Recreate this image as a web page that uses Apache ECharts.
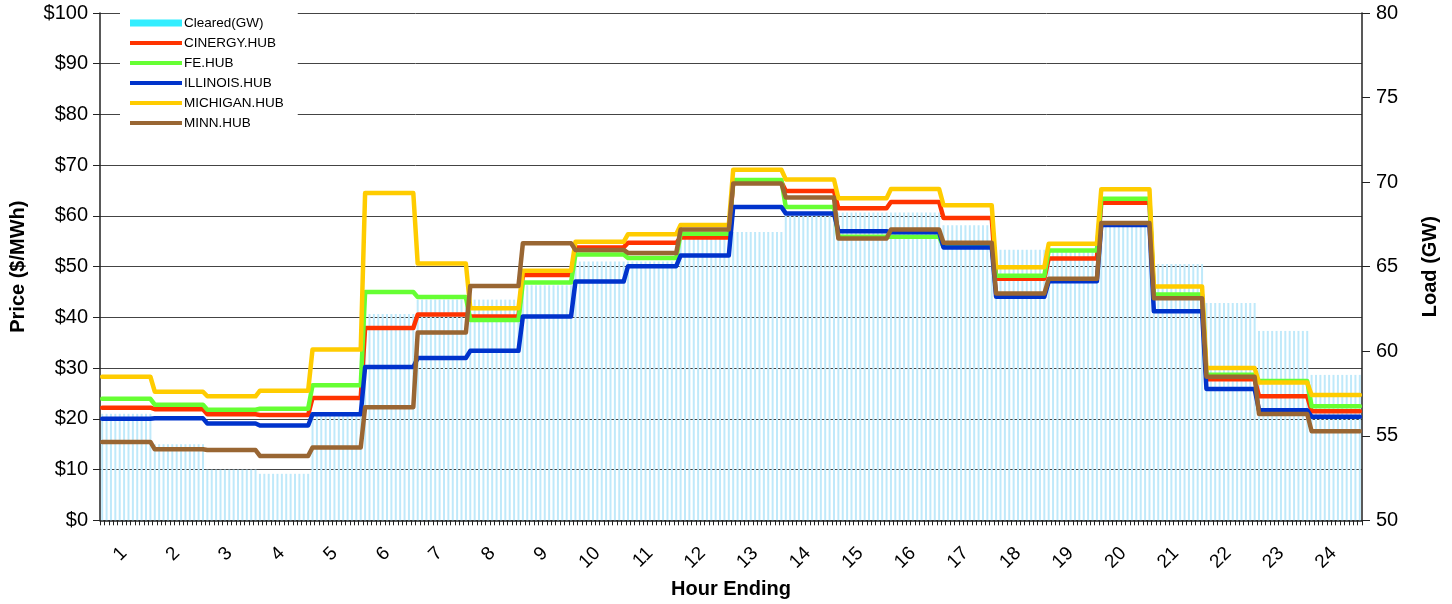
<!DOCTYPE html>
<html>
<head>
<meta charset="utf-8">
<script src="https://cdn.jsdelivr.net/npm/echarts@6/dist/echarts.min.js"></script>
<style>
  html, body { margin: 0; padding: 0; background: #fff; overflow: hidden; }
  #chart { width: 1452px; height: 604px; }
</style>
</head>
<body>
<div id="chart"></div>
<script>
// Hour-ending labels
const hours = ['1','2','3','4','5','6','7','8','9','10','11','12','13','14','15','16','17','18','19','20','21','22','23','24'];
// The chart is plotted at 5-minute resolution: 12 slots per hour, hourly values held flat
const slotsPerHour = 12;

// Hourly values
const clearedGW   = [56.3, 54.5, 53.0, 52.75, 56.2, 62.2, 63.05, 63.05, 63.9, 65.3, 65.3, 66.7, 67.05, 68.0, 68.2, 68.2, 67.45, 66.0, 66.0, 67.45, 65.15, 62.85, 61.2, 58.6];
const cinergyHub  = [22.2, 21.9, 20.9, 20.75, 24.1, 37.9, 40.55, 40.2, 48.35, 53.8, 54.7, 55.75, 66.7, 64.9, 61.5, 62.75, 59.6, 47.6, 51.6, 62.6, 44.2, 27.8, 24.45, 21.5];
const feHub       = [23.95, 22.8, 21.8, 22.0, 26.6, 45.0, 44.0, 39.5, 46.9, 52.4, 51.7, 56.5, 67.1, 61.75, 55.9, 55.9, 53.9, 48.2, 53.2, 63.4, 44.5, 28.7, 27.45, 22.5];
const illinoisHub = [20.0, 20.1, 19.1, 18.7, 20.9, 30.2, 32.0, 33.4, 40.2, 47.05, 50.1, 52.2, 61.75, 60.5, 57.0, 56.8, 53.8, 44.05, 47.1, 58.2, 41.2, 25.9, 21.7, 20.4];
const michiganHub = [28.3, 25.35, 24.45, 25.55, 33.65, 64.5, 50.6, 41.8, 49.2, 54.9, 56.4, 58.2, 69.1, 67.2, 63.5, 65.3, 62.1, 49.9, 54.5, 65.25, 46.1, 30.0, 27.15, 24.7];
const minnHub     = [15.45, 14.0, 13.85, 12.7, 14.35, 22.3, 37.0, 46.2, 54.6, 53.3, 52.7, 57.3, 66.4, 63.65, 55.55, 57.3, 54.7, 44.7, 47.6, 58.6, 43.75, 28.3, 20.95, 17.55];

// Axis tick values
const priceTicks = [0, 10, 20, 30, 40, 50, 60, 70, 80, 90, 100];
const loadTicks  = [50, 55, 60, 65, 70, 75, 80];

// 5-minute slot categories (label shows the hour)
const slots = hours.flatMap(h => Array.from({length: slotsPerHour}, (_, k) => h + ':' + String(k * 5).padStart(2, '0')));
const hold = arr => arr.flatMap(v => Array(slotsPerHour).fill(v));

const FONT = '"Liberation Sans", Arial, sans-serif';
const chart = echarts.init(document.getElementById('chart'), null, {renderer: 'canvas', width: 1452, height: 604});

const LINE_ICON = 'path://M0,0M0,1.5H52V5.5H0ZM52,7';
const lineSeries = (name, data, color) => ({
  name, type: 'line', data: hold(data), yAxisIndex: 0,
  symbol: 'none', showSymbol: false, smooth: false,
  lineStyle: {color, width: 4.5, cap: 'round', join: 'round'},
  itemStyle: {color},
  emphasis: {disabled: true},
  z: 3
});

chart.setOption({
  animation: false,
  backgroundColor: '#fff',
  textStyle: {fontFamily: FONT},
  grid: {left: 98, width: 1264, top: 13, height: 522, containLabel: false},
  legend: {
    orient: 'vertical', left: 120, top: 12,
    backgroundColor: '#fff',
    padding: [4, 14, 7, 10],
    itemWidth: 52, itemHeight: 7, itemGap: 6,
    textStyle: {fontFamily: FONT, fontSize: 13.5, color: '#000', padding: [0, 0, 0, -3]},
    data: [
      {name: 'Cleared(GW)', icon: 'rect', itemStyle: {color: '#33eeff'}},
      {name: 'CINERGY.HUB', icon: LINE_ICON},
      {name: 'FE.HUB', icon: LINE_ICON},
      {name: 'ILLINOIS.HUB', icon: LINE_ICON},
      {name: 'MICHIGAN.HUB', icon: LINE_ICON},
      {name: 'MINN.HUB', icon: LINE_ICON}
    ]
  },
  xAxis: {
    type: 'category', data: slots, boundaryGap: true,
    name: 'Hour Ending', nameLocation: 'middle', nameGap: 46,
    nameTextStyle: {fontFamily: FONT, fontSize: 20, fontWeight: 'bold', color: '#000'},
    axisLine: {lineStyle: {color: '#222', width: 1.5}},
    axisTick: {show: true, interval: 0, length: 5, lineStyle: {color: '#222'}},
    axisLabel: {
      interval: (idx) => idx % slotsPerHour === 5,
      formatter: v => v.split(':')[0],
      rotate: 45, margin: 30,
      fontFamily: FONT, fontSize: 19, color: '#000'
    },
    splitLine: {show: false}
  },
  yAxis: [
    {
      type: 'value', min: priceTicks[0], max: priceTicks[priceTicks.length - 1], interval: 10,
      position: 'left',
      name: 'Price ($/MWh)', nameLocation: 'middle', nameGap: 72, nameRotate: 90,
      nameTextStyle: {fontFamily: FONT, fontSize: 20, fontWeight: 'bold', color: '#000'},
      axisLine: {show: true, lineStyle: {color: '#222', width: 1.5}},
      axisTick: {show: true, length: 7, lineStyle: {color: '#222'}},
      axisLabel: {formatter: v => '$' + v, fontFamily: FONT, fontSize: 20, color: '#000', margin: 12},
      splitLine: {show: true, lineStyle: {color: '#444', width: 1}}
    },
    {
      type: 'value', min: loadTicks[0], max: loadTicks[loadTicks.length - 1], interval: 5,
      position: 'right',
      name: 'Load (GW)', nameLocation: 'middle', nameGap: 58, nameRotate: 90,
      nameTextStyle: {fontFamily: FONT, fontSize: 20, fontWeight: 'bold', color: '#000'},
      axisLine: {show: true, lineStyle: {color: '#222', width: 1.5}},
      axisTick: {show: true, length: 8, lineStyle: {color: '#222'}},
      axisLabel: {fontFamily: FONT, fontSize: 20, color: '#000', margin: 14},
      splitLine: {show: false}
    }
  ],
  series: [
    {
      name: 'Cleared(GW)', type: 'bar', data: hold(clearedGW), yAxisIndex: 1,
      barWidth: 2, itemStyle: {color: '#bfe9fa'},
      emphasis: {disabled: true}, z: 2
    },
    lineSeries('CINERGY.HUB', cinergyHub, '#ff3300'),
    lineSeries('FE.HUB', feHub, '#66ff33'),
    lineSeries('ILLINOIS.HUB', illinoisHub, '#0033cc'),
    lineSeries('MICHIGAN.HUB', michiganHub, '#ffcc00'),
    lineSeries('MINN.HUB', minnHub, '#996633')
  ]
});
</script>
</body>
</html>
